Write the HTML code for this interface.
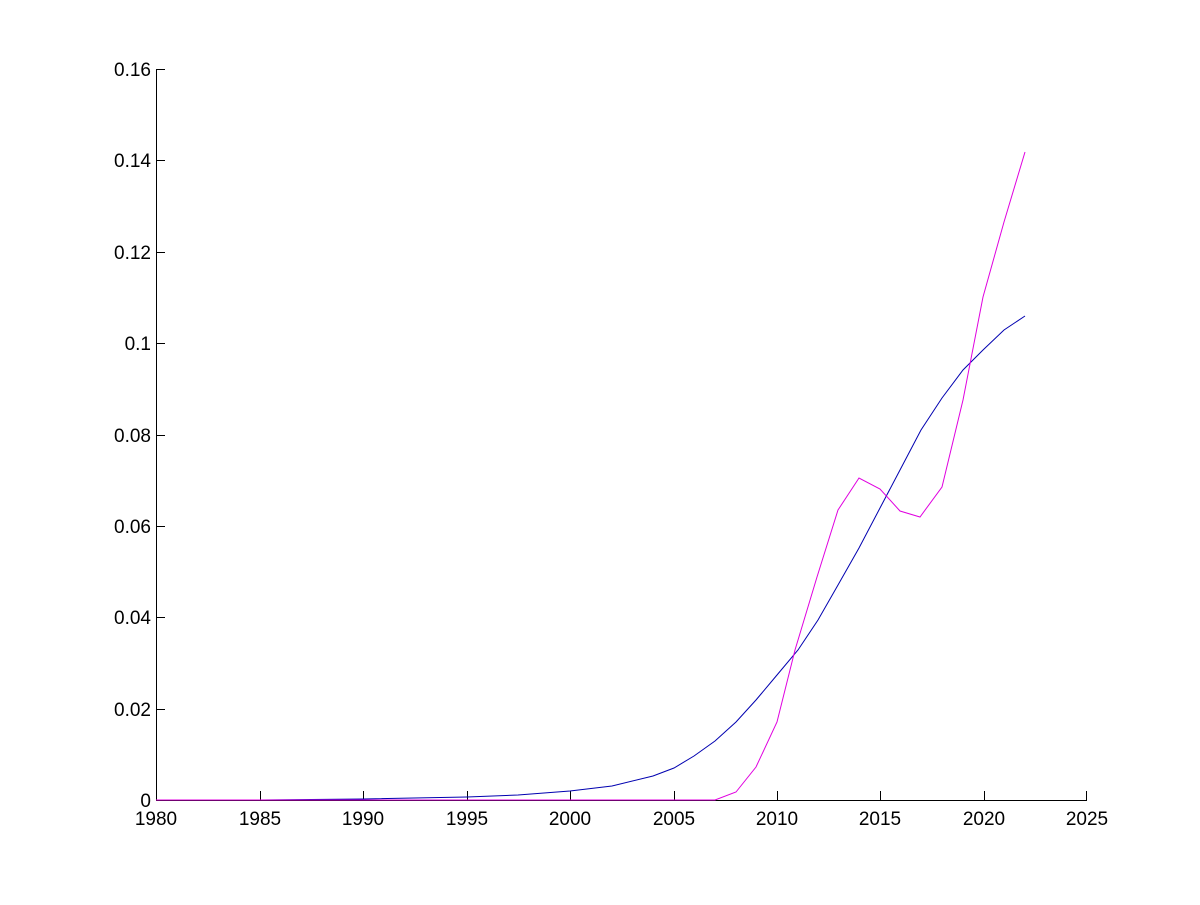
<!DOCTYPE html>
<html><head><style>body{margin:0;background:#fff}</style></head><body>
<svg width="1200" height="900" xmlns="http://www.w3.org/2000/svg" font-family="Liberation Sans, sans-serif" font-size="19">
<rect width="1200" height="900" fill="#fff"/>
<g stroke="#000" stroke-width="1">
<line x1="156.5" y1="69" x2="156.5" y2="800"/>
<line x1="156" y1="800.5" x2="1087" y2="800.5"/>
<line x1="156" y1="69.5" x2="165" y2="69.5"/>
<line x1="156" y1="160.5" x2="165" y2="160.5"/>
<line x1="156" y1="252.5" x2="165" y2="252.5"/>
<line x1="156" y1="343.5" x2="165" y2="343.5"/>
<line x1="156" y1="435.5" x2="165" y2="435.5"/>
<line x1="156" y1="526.5" x2="165" y2="526.5"/>
<line x1="156" y1="617.5" x2="165" y2="617.5"/>
<line x1="156" y1="709.5" x2="165" y2="709.5"/>
<line x1="260.5" y1="800" x2="260.5" y2="791"/>
<line x1="363.5" y1="800" x2="363.5" y2="791"/>
<line x1="467.5" y1="800" x2="467.5" y2="791"/>
<line x1="570.5" y1="800" x2="570.5" y2="791"/>
<line x1="674.5" y1="800" x2="674.5" y2="791"/>
<line x1="777.5" y1="800" x2="777.5" y2="791"/>
<line x1="880.5" y1="800" x2="880.5" y2="791"/>
<line x1="984.5" y1="800" x2="984.5" y2="791"/>
<line x1="1086.5" y1="800" x2="1086.5" y2="791"/>
</g>
<g text-anchor="end">
<text x="151" y="76">0.16</text><text x="151" y="167">0.14</text><text x="151" y="259">0.12</text>
<text x="151" y="350">0.1</text><text x="151" y="442">0.08</text><text x="151" y="533">0.06</text>
<text x="151" y="624">0.04</text><text x="151" y="716">0.02</text><text x="151" y="807">0</text>
</g>
<g text-anchor="middle">
<text x="156" y="825">1980</text><text x="260" y="825">1985</text><text x="363" y="825">1990</text>
<text x="467" y="825">1995</text><text x="570" y="825">2000</text><text x="674" y="825">2005</text>
<text x="777" y="825">2010</text><text x="880" y="825">2015</text><text x="984" y="825">2020</text>
<text x="1087" y="825">2025</text>
</g>
<polyline fill="none" stroke="#0000b0" stroke-width="1" points="156,800 260,800 363,799 467,797 518,795 570,791 612,786 653,776 674,768 694,756 715,741 736,722 756,700 777,675 798,650 818,620 838,585 859,548 880,508 900,470 921,430 942,398 963,370 983,350 1004,330 1025,316"/>
<polyline fill="none" stroke="#e000e0" stroke-width="1" points="156,800 715,800 736,792 756,767 777,722 795,650 817,577 838,510 859,478 880,489 900,511 920,517 942,487 963,400 983,297 1004,222 1025,152"/>
</svg>
</body></html>
